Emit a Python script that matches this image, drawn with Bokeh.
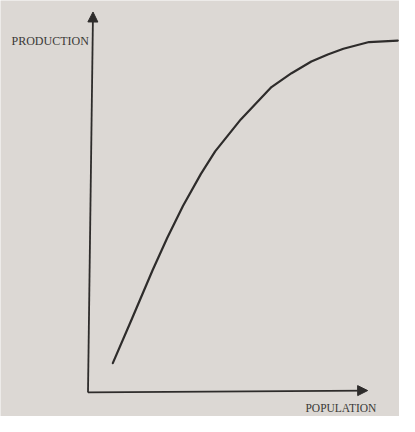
from bokeh.plotting import figure
from bokeh.models import Range1d, Arrow, NormalHead, ColumnDataSource, Label
from bokeh.embed import file_html
from bokeh.resources import INLINE

# Data (arbitrary units)
population = [0.89, 1.58, 2.32, 2.84, 3.41, 4.05, 4.56, 5.48, 6.58, 7.3, 8.01, 8.6, 9.16, 10.08, 11.11]
production = [0.78, 1.97, 3.26, 4.11, 4.97, 5.82, 6.42, 7.27, 8.13, 8.5, 8.81, 9.0, 9.15, 9.33, 9.37]

# axis lines (start/end) in the same units
axis_x_start = [0.0, 0.0]
axis_y_start = [0.0, 0.0]
axis_x_end = [10.03, 0.18]
axis_y_end = [0.05, 10.13]

x_label = "POPULATION"
y_label = "PRODUCTION"

paper = "#dcd8d4"
ink = "#2e2c2b"

p = figure(width=399, height=416, output_backend="svg", toolbar_location=None,
           x_range=Range1d(-3.138, 11.172), y_range=Range1d(-0.641, 10.436),
           min_border=0, background_fill_color=paper, border_fill_color=paper)
p.axis.visible = False
p.grid.visible = False
p.outline_line_color = None

src = ColumnDataSource(dict(x=population, y=production))
p.line("x", "y", source=src, line_color=ink, line_width=2.2, line_join="round", line_cap="round")

for xs, ys, xe, ye in zip(axis_x_start, axis_y_start, axis_x_end, axis_y_end):
    p.add_layout(Arrow(end=NormalHead(size=10, fill_color=ink, line_color=ink, line_width=1),
                       x_start=xs, y_start=ys, x_end=xe, y_end=ye,
                       line_color=ink, line_width=1.8))

p.add_layout(Label(x=0.03, y=9.36, text=y_label, text_align="right", text_baseline="alphabetic",
                   text_font="Liberation Serif", text_font_size="12px", text_color="#3a3836"))
p.add_layout(Label(x=9.07, y=-0.57, text=x_label, text_align="center", text_baseline="bottom",
                   text_font="Liberation Serif", text_font_size="11.5px", text_color="#3a3836"))

html = file_html(p, INLINE)
html = html.replace("<body>", '<body style="background-color:%s">' % paper, 1)
open("out.html", "w").write(html)
